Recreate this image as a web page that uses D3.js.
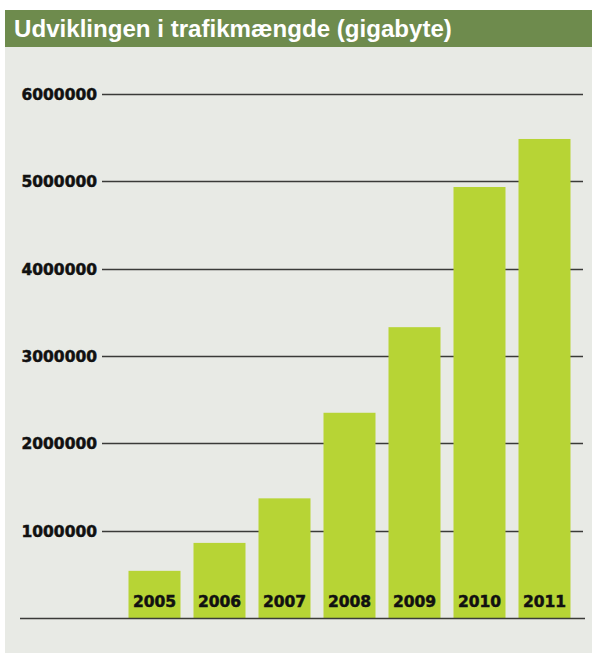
<!DOCTYPE html>
<html><head><meta charset="utf-8">
<script src="https://cdn.jsdelivr.net/npm/d3@7"></script>
<style>body{margin:0;background:#fff}svg{display:block}</style>
</head><body>
<svg id="c" width="592" height="653"></svg>
<script>
const title = "Udviklingen i trafikmængde (gigabyte)";
const years = ["2005","2006","2007","2008","2009","2010","2011"];
const traffic = [540000, 860000, 1370000, 2350000, 3330000, 4935000, 5485000];
const yTicks = [1000000, 2000000, 3000000, 4000000, 5000000, 6000000];

const svg = d3.select("#c");
svg.append("rect").attr("x",5).attr("y",47).attr("width",587).attr("height",606).attr("fill","#e8eae5");
svg.append("rect").attr("x",5).attr("y",10).attr("width",587).attr("height",37).attr("fill","#6e8b4d");
const t = svg.append("text").attr("x",0).attr("y",0).attr("fill","#fff")
  .attr("font-family","'Liberation Sans',Arial,sans-serif")
  .attr("font-weight","bold").attr("font-size",24).text(title);
const tl = t.node().getComputedTextLength();
const sx = tl > 0 ? 438/tl : 1;
t.attr("transform",`translate(14,37) scale(${sx},1)`);

const y = d3.scaleLinear().domain([0,6000000]).range([618,94]);
const x = d3.scaleBand().domain(years).range([122,577]).paddingInner(0.2).paddingOuter(0.1);

const g = svg.append("g");
g.selectAll("line.grid").data(yTicks).join("line").attr("class","grid")
  .attr("x1",102).attr("x2",583).attr("y1",d=>Math.round(y(d))+0.5).attr("y2",d=>Math.round(y(d))+0.5)
  .attr("stroke","#3a3a38").attr("stroke-width",1.6);
g.selectAll("text.yl").data(yTicks).join("text").attr("class","yl")
  .attr("x",97).attr("y",d=>y(d)+6).attr("text-anchor","end")
  .attr("font-family","'DejaVu Sans',sans-serif").attr("font-weight","bold").attr("font-size",15.5)
  .attr("fill","#111").attr("stroke","#111").attr("stroke-width",0.5).text(d=>d3.format("d")(d));

g.selectAll("rect.bar").data(traffic).join("rect").attr("class","bar")
  .attr("x",(d,i)=>x(years[i])).attr("width",x.bandwidth())
  .attr("y",d=>y(d)).attr("height",d=>y(0)-y(d)).attr("fill","#b7d435");

g.append("line").attr("x1",20).attr("x2",585).attr("y1",618.5).attr("y2",618.5)
  .attr("stroke","#3a3a38").attr("stroke-width",1.6);

g.selectAll("text.xl").data(years).join("text").attr("class","xl")
  .attr("x",d=>x(d)+x.bandwidth()/2).attr("y",607).attr("text-anchor","middle")
  .attr("font-family","'DejaVu Sans',sans-serif").attr("font-weight","bold").attr("font-size",15.5)
  .attr("fill","#111").attr("stroke","#111").attr("stroke-width",0.5).text(d=>d);
</script>
</body></html>
